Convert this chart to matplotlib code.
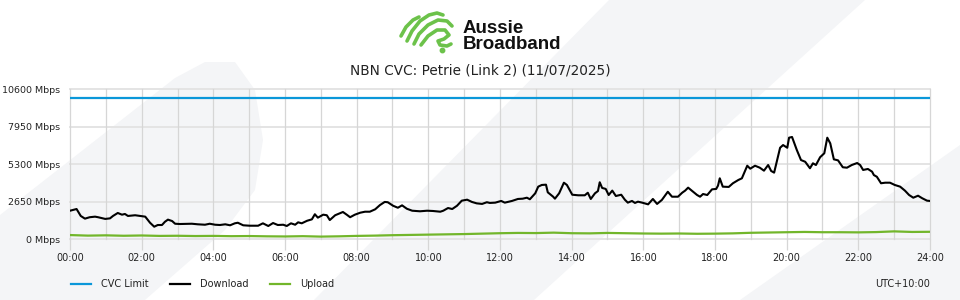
import matplotlib
matplotlib.use('Agg')
import matplotlib.pyplot as plt
from matplotlib.lines import Line2D
from matplotlib.patches import Polygon
import numpy as np

# Download trace, minutes after midnight and Mbps
dl_min = [0, 11, 18, 25, 33, 42, 47, 59, 67, 72,
          80, 87, 92, 97, 109, 117, 126, 134, 141, 147,
          154, 159, 164, 171, 176, 184, 204, 214, 226, 234,
          243, 251, 260, 268, 276, 281, 290, 301, 315, 323,
          332, 340, 348, 357, 363, 370, 377, 382, 388, 397,
          405, 410, 415, 424, 430, 435, 444, 452, 457, 464,
          469, 477, 486, 494, 502, 511, 519, 527, 532, 541,
          549, 556, 564, 573, 586, 598, 608, 620, 625, 633,
          640, 648, 656, 665, 673, 681, 690, 698, 703, 712,
          722, 728, 740, 750, 758, 765, 770, 779, 784, 790,
          797, 800, 809, 812, 819, 827, 832, 841, 851, 862,
          867, 872, 879, 884, 887, 891, 897, 902, 908, 914,
          923, 929, 934, 941, 946, 951, 958, 968, 976, 983,
          991, 1001, 1008, 1018, 1025, 1030, 1035, 1041, 1050, 1055,
          1060, 1067, 1075, 1082, 1085, 1088, 1093, 1103, 1110, 1119,
          1125, 1134, 1139, 1147, 1155, 1162, 1169, 1174, 1179, 1189,
          1194, 1201, 1204, 1209, 1217, 1224, 1231, 1239, 1244, 1249,
          1256, 1263, 1268, 1273, 1279, 1286, 1294, 1301, 1309, 1318,
          1323, 1328, 1336, 1343, 1346, 1351, 1358, 1365, 1373, 1381,
          1390, 1398, 1405, 1412, 1420, 1427, 1435, 1440]
dl_mbps = [2020, 2140, 1650, 1460, 1560, 1600, 1560, 1440, 1480, 1650,
           1860, 1740, 1790, 1650, 1700, 1650, 1600, 1170, 890, 1010,
           1010, 1240, 1390, 1290, 1100, 1080, 1100, 1060, 1030, 1100,
           1030, 1010, 1060, 990, 1130, 1170, 990, 960, 960, 1130,
           940, 1150, 1010, 1030, 940, 1130, 1030, 1200, 1130, 1310,
           1410, 1770, 1530, 1740, 1700, 1360, 1700, 1840, 1930, 1720,
           1560, 1740, 1880, 1950, 1950, 2120, 2420, 2640, 2620, 2370,
           2230, 2400, 2160, 2020, 1980, 2020, 2000, 1950, 2020, 2210,
           2140, 2370, 2730, 2800, 2640, 2540, 2500, 2620, 2570, 2590,
           2710, 2590, 2710, 2850, 2870, 2940, 2830, 3250, 3720, 3840,
           3860, 3320, 3010, 2870, 3250, 4000, 3840, 3150, 3110, 3110,
           3290, 2850, 3250, 3410, 4030, 3630, 3560, 3130, 3440, 3060,
           3150, 2800, 2590, 2710, 2570, 2660, 2590, 2470, 2850, 2500,
           2780, 3360, 3010, 3010, 3290, 3440, 3650, 3440, 3130, 3010,
           3200, 3130, 3530, 3560, 3790, 4310, 3720, 3700, 3960, 4190,
           4310, 5200, 4990, 5200, 5060, 4850, 5250, 4830, 4710, 6470,
           6660, 6470, 7180, 7230, 6310, 5600, 5480, 5020, 5370, 5250,
           5800, 6080, 7180, 6780, 5650, 5580, 5090, 5060, 5250, 5390,
           5250, 4900, 4970, 4780, 4540, 4420, 3960, 4000, 4000, 3840,
           3720, 3440, 3130, 2940, 3080, 2900, 2730, 2710]

# Upload trace, every 30 minutes
ul_min = list(range(0, 1441, 30))
ul_mbps = [300, 260, 280, 250, 270, 240, 250, 230, 240, 220,
           230, 210, 200, 220, 190, 210, 240, 260, 290, 310,
           330, 350, 370, 400, 430, 450, 440, 470, 430, 420,
           450, 430, 410, 400, 410, 390, 400, 420, 460, 480,
           500, 520, 500, 500, 490, 510, 560, 520, 530]

cvc_limit = 10000
y_ticks = [0, 2650, 5300, 7950, 10600]
x_labels = ['00:00', '02:00', '04:00', '06:00', '08:00', '10:00', '12:00',
            '14:00', '16:00', '18:00', '20:00', '22:00', '24:00']

BLUE = '#0a97d9'
GREEN = '#72b62b'
BG = '#f4f5f7'

W, H = 960, 300


def px(x, y):
    return (x / W, 1 - y / H)


fig = plt.figure(figsize=(9.6, 3.0), dpi=100, facecolor='white')

# background decoration (kept behind everything)
shapes = [
    [(0, 215), (175, 78), (205, 62), (235, 62), (255, 90), (263, 140),
     (255, 190), (225, 230), (145, 300), (0, 300)],
    [(314, 300), (609, 0), (865, 0), (534, 300)],
    [(740, 300), (960, 145), (960, 300)],
]
for s in shapes:
    fig.patches.append(Polygon([px(*p) for p in s], closed=True,
                               transform=fig.transFigure, facecolor=BG,
                               edgecolor='none', zorder=-10))

# logo
fig.text(*px(463, 33), 'Aussie', fontsize=13.5, fontweight='bold',
         family='Liberation Sans', color='#111111', va='baseline')
fig.text(*px(463, 49), 'Broadband', fontsize=13.5, fontweight='bold',
         family='Liberation Sans', color='#111111', va='baseline')
strokes = [
    [(401, 36), (406, 27), (413, 20), (419, 17)],
    [(407, 41), (412, 31), (420, 21), (429, 15), (437, 13), (443, 15)],
    [(414, 44), (419, 34), (428, 25), (438, 20), (447, 21), (452, 26)],
    [(421, 45), (428, 36), (437, 30), (445, 30), (449, 35), (444, 39),
     (438, 41), (440, 45), (447, 46), (451, 44)],
]
for s in strokes:
    xs, ys = zip(*[px(*p) for p in s])
    fig.add_artist(Line2D(xs, ys, transform=fig.transFigure, color='#6cc24a',
                          lw=2.6, solid_capstyle='round', solid_joinstyle='round'))
fig.add_artist(Line2D([442 / W], [1 - 50 / H], transform=fig.transFigure,
                      marker='o', ms=3.2, color='#6cc24a', lw=0))

fig.text(0.5, 1 - 70 / H, 'NBN CVC: Petrie (Link 2) (11/07/2025)',
         ha='center', va='center', fontsize=9.8, color='#222222')

ax = fig.add_axes([70 / W, 1 - 239.3 / H, 860 / W, 150 / H])
ax.set_facecolor('none')

hours_dl = np.array(dl_min) / 60
hours_ul = np.array(ul_min) / 60

# grid
for v in y_ticks:
    ax.axhline(v, color='#e4e4e4', lw=1.4, zorder=1, clip_on=False)
for h in range(25):
    ax.axvline(h, color='#d6d6d6', lw=0.9, zorder=1, clip_on=False)

ax.axhline(cvc_limit, color=BLUE, lw=1.6, zorder=3)
ax.plot(hours_dl, dl_mbps, color='black', lw=1.5, zorder=4)
ax.plot(hours_ul, ul_mbps, color=GREEN, lw=1.6, zorder=3)

ax.set_xlim(0, 24)
ax.set_ylim(0, 10600)
ax.set_xticks(range(0, 25, 2))
ax.set_xticklabels(x_labels)
ax.set_yticks(y_ticks)
ax.set_yticklabels([f'{v} Mbps' for v in y_ticks])
ax.tick_params(axis='x', length=8, width=0.9, color='#d6d6d6', pad=2,
               labelsize=7, labelcolor='#222222')
ax.tick_params(axis='y', length=0, pad=7, labelsize=6.8, labelcolor='#222222')
for sp in ax.spines.values():
    sp.set_visible(False)

handles = [Line2D([], [], color=BLUE, lw=1.6),
           Line2D([], [], color='black', lw=1.6),
           Line2D([], [], color=GREEN, lw=1.6)]
fig.legend(handles, ['CVC Limit', 'Download', 'Upload'], loc='center left',
           bbox_to_anchor=px(62, 284), ncol=3, frameon=False, fontsize=7,
           handlelength=2.1, handletextpad=1.0, columnspacing=2.2,
           labelcolor='#222222')
fig.text(*px(930, 284), 'UTC+10:00', ha='right', va='center', fontsize=7,
         color='#222222')

fig.savefig('out.png', dpi=100, facecolor=fig.get_facecolor())
